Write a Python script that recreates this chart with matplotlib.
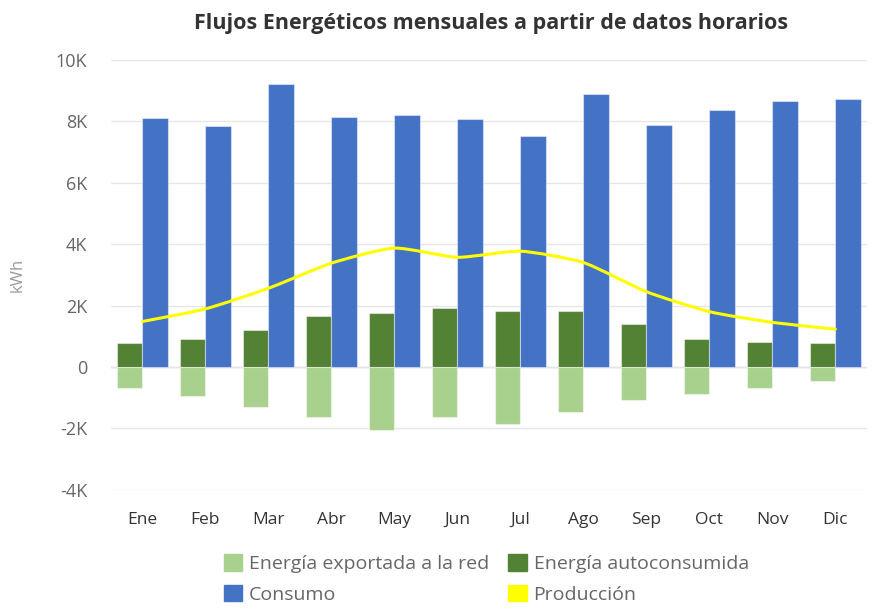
import matplotlib
matplotlib.use("Agg")
import matplotlib.pyplot as plt
from matplotlib.patches import Patch, PathPatch
from matplotlib.path import Path
from matplotlib.ticker import FuncFormatter
import numpy as np

plt.rcParams['font.family'] = ['Open Sans', 'DejaVu Sans']

meses = ["Ene", "Feb", "Mar", "Abr", "May", "Jun", "Jul", "Ago", "Sep", "Oct", "Nov", "Dic"]
exportada = [-700, -930, -1300, -1630, -2050, -1630, -1870, -1480, -1070, -880, -680, -450]
autoconsumida = [770, 910, 1190, 1670, 1770, 1920, 1820, 1810, 1400, 920, 820, 770]
consumo = [8110, 7830, 9210, 8150, 8200, 8060, 7530, 8880, 7870, 8350, 8670, 8720]
produccion = [1480, 1890, 2560, 3380, 3870, 3570, 3770, 3400, 2450, 1800, 1450, 1230]

C_EXP = "#a9d18e"
C_AUTO = "#548235"
C_CONS = "#4472c4"
C_PROD = "#ffff00"
TXT = "#666666"

fig = plt.figure(figsize=(8.73, 6.10), dpi=100)
ax = fig.add_axes([0.127, 0.197, 0.866, 0.705])

x = np.arange(len(meses))
w = 0.405
edge = (1, 1, 1, 0.45)
ax.bar(x - w / 2, autoconsumida, width=w, color=C_AUTO, edgecolor=edge, linewidth=0.8, zorder=3)
ax.bar(x - w / 2, exportada, width=w, color=C_EXP, edgecolor=edge, linewidth=0.8, zorder=3)
ax.bar(x + w / 2, consumo, width=w, color=C_CONS, edgecolor=edge, linewidth=0.8, zorder=3)

# gently smoothed production curve: cubic Bezier segments through the monthly values
pts = np.column_stack([x, produccion]).astype(float)
verts = [tuple(pts[0])]
codes = [Path.MOVETO]
n = len(pts)
k = 0.1
for i in range(n - 1):
    p0 = pts[i - 1] if i > 0 else pts[i]
    p1 = pts[i]
    p2 = pts[i + 1]
    p3 = pts[i + 2] if i + 2 < n else pts[i + 1]
    c1 = p1 + (p2 - p0) * k
    c2 = p2 - (p3 - p1) * k
    verts += [tuple(c1), tuple(c2), tuple(p2)]
    codes += [Path.CURVE4, Path.CURVE4, Path.CURVE4]
ax.add_patch(PathPatch(Path(verts, codes), facecolor="none", edgecolor=C_PROD, linewidth=2.2, zorder=4,
                       capstyle="round", joinstyle="round"))

ax.set_xlim(-0.5, 11.5)
ax.set_ylim(-4000, 10000)
ax.set_yticks(np.arange(-4000, 10001, 2000))
ax.yaxis.set_major_formatter(FuncFormatter(lambda v, p: "0" if v == 0 else f"{int(v/1000)}K"))
ax.set_xticks(x)
ax.set_xticklabels(meses)
ax.grid(axis="y", color="#e6e6e6", linewidth=1, zorder=0)
ax.axhline(0, color="#cccccc", linewidth=1, zorder=1)
for s in ax.spines.values():
    s.set_visible(False)
ax.tick_params(axis="y", length=0, labelsize=13, labelcolor=TXT, pad=17)
ax.tick_params(axis="x", length=0, labelsize=12.5, labelcolor="#333333", pad=16)
ax.set_ylabel("kWh", color="#999999", fontsize=12, labelpad=22)

fig.text(0.562, 0.962, "Flujos Energéticos mensuales a partir de datos horarios", ha="center", va="center",
         fontsize=15.5, fontweight="bold", color="#333333")

handles = [Patch(color=C_EXP), Patch(color=C_CONS), Patch(color=C_AUTO), Patch(color=C_PROD)]
labels = ["Energía exportada a la red", "Consumo", "Energía autoconsumida", "Producción"]
fig.legend(handles, labels, ncol=2, loc="center", bbox_to_anchor=(0.557, 0.051), frameon=False,
           fontsize=14, labelcolor=TXT, handlelength=0.93, handleheight=0.93, handletextpad=0.36,
           columnspacing=1.0, labelspacing=0.6, borderpad=0.2)

fig.savefig("out.png", dpi=100, facecolor="white")
